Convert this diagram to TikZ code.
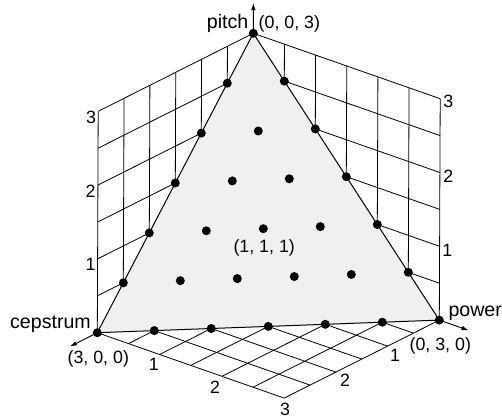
\documentclass[tikz,border=0pt]{standalone}
\usepackage{fontspec}
\setmainfont{Liberation Sans}
\usetikzlibrary{arrows.meta}
\begin{document}
\begin{tikzpicture}[x=1pt,y=-1pt,
  gridline/.style={line width=0.8pt, black},
  tri/.style={fill=black!6, draw=black, line width=1pt, line join=round},
  dot/.style={circle, fill=black, inner sep=0pt, minimum size=9pt},
  axis/.style={line width=0.9pt, -{Latex[length=7pt,width=4.5pt]}},
  word/.style={inner sep=0pt, font=\fontsize{19.6}{22}\selectfont},
  num/.style={inner sep=0pt, font=\fontsize{17.8}{20}\selectfont}]
\useasboundingbox (0,0) rectangle (502,419);
\begin{scope}[shift={(252.4pt,-254.7pt)}, x={(-51.7pt,-26pt)}, y={(62.3pt,-21.8pt)}, z={(0.3pt,73.8pt)}]
  % wall and floor grids (only the parts not hidden by the triangle)
  \foreach \c in {0.5,1,1.5,2,2.5,3} {
    \draw[gridline] (3,0,\c) -- ({3-\c},0,\c);
    \draw[gridline] (\c,0,3) -- (\c,0,{3-\c});
    \draw[gridline] (0,3,\c) -- (0,{3-\c},\c);
    \draw[gridline] (0,\c,3) -- (0,\c,{3-\c});
    \draw[gridline] (\c,3,0) -- (\c,{3-\c},0);
    \draw[gridline] (3,\c,0) -- ({3-\c},\c,0);
  }
  % the simplex
  \filldraw[tri] (3,0,0) -- (0,3,0) -- (0,0,3) -- cycle;
  % lattice points
  \foreach \i in {0,...,6} {
    \pgfmathtruncatemacro\jmax{6-\i}
    \foreach \j in {0,...,\jmax} {
      \pgfmathtruncatemacro\k{6-\i-\j}
      \node[dot] (d\i\j) at ({\i/2},{\j/2},{\k/2}) {};
    }
  }
  \coordinate (xtip) at (3.53,0,0);
  \coordinate (ytip) at (0,3.47,0);
  \coordinate (ztip) at (0,0,3.41);
\end{scope}
\draw[axis] (d00.center) -- (ztip);
\draw[axis] (d60.center) -- (xtip);
\draw[axis] (d06.center) -- (ytip);
% axis labels
\node[word, anchor=base east] (lpitch) at (248.5,28.5) {pitch};
\node[num, anchor=base west] (lz) at (258.5,28.5) {(0, 0, 3)};
\node[word, anchor=base east] (lcep) at (91,328.3) {cepstrum};
\node[num] (lx) at (98.3,358.5) {(3, 0, 0)};
\node[word, anchor=base west] (lpow) at (448.3,316.7) {power};
\node[num] (ly) at (440.3,346) {(0, 3, 0)};
\node[num] (lc) at (264.2,247.5) {(1, 1, 1)};
% wall scales
\node[num] (wl3) at (91,117) {3};
\node[num] (wl2) at (90.5,191) {2};
\node[num] (wl1) at (90.5,264.5) {1};
\node[num] (wr3) at (448.3,101.7) {3};
\node[num] (wr2) at (448.3,176.7) {2};
\node[num] (wr1) at (447.3,250) {1};
% floor scales
\node[num] (fl1) at (153.7,364.3) {1};
\node[num] (fl2) at (215,387.3) {2};
\node[num] (fl3) at (285,409.3) {3};
\node[num] (fr1) at (395,355) {1};
\node[num] (fr2) at (345,380) {2};
\end{tikzpicture}
\end{document}
